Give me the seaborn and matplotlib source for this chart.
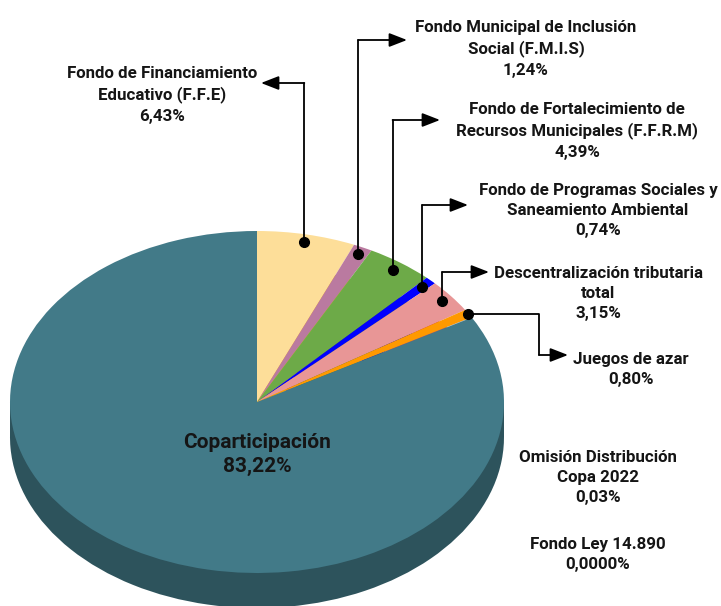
import colorsys

import matplotlib.pyplot as plt
import matplotlib.colors as mcolors
import numpy as np
import seaborn as sns


# data
fondos = [
    "Fondo de Financiamiento\nEducativo (F.F.E)",
    "Fondo Municipal de Inclusión\nSocial (F.M.I.S)",
    "Fondo de Fortalecimiento de\nRecursos Municipales (F.F.R.M)",
    "Fondo de Programas Sociales y\nSaneamiento Ambiental",
    "Descentralización tributaria\ntotal",
    "Juegos de azar",
    "Omisión Distribución\nCopa 2022",
    "Fondo Ley 14.890",
    "Coparticipación",
]
porcentajes = [6.43, 1.24, 4.39, 0.74, 3.15, 0.80, 0.03, 0.0, 83.22]
etiquetas_pct = ["6,43%", "1,24%", "4,39%", "0,74%", "3,15%", "0,80%", "0,03%", "0,0000%", "83,22%"]
colores = ["#FDDE99", "#BA7AA0", "#6DAA48", "#0000FF", "#E89696", "#FF9900",
           "#9E9E9E", "#CCCCCC", "#427A88"]

# layout (pixels of the 721x606 picture)
W, H = 721, 606
CX, CY = 257, 402      # centre of the top face
RX, RY = 247, 171      # radii of the ellipse
DEPTH = 35             # thickness of the pie

# text anchor (x centre, y of first line centre) and arrow routing per label
text_pos = [(162, 72), (526, 26), (577, 108), (598, 189), (598, 272),
            (631, 358), (598, 456), (598, 543), (257, 441)]
dot_r = [0.955, 0.955, 0.945, 0.95, 0.955, 1.0, None, None, None]
# arrow paths: waypoints after the dot, last one is the arrow tip
routes = [
    [("dot", 83), (261, 83)],
    [("dot", 40), (407, 40)],
    [("dot", 120), (440, 120)],
    [("dot", 205), (468, 205)],
    [("dot", 272), (489, 272)],
    [(539, "dot"), (539, 355), (568, 355)],
    None, None, None,
]


def fx(px):
    return (px - CX) / RX


def fy(py):
    return (CY - py) / RY


def darker(c, f=0.68):
    r, g, b = mcolors.to_rgb(c)
    h, l, s = colorsys.rgb_to_hls(r, g, b)
    return colorsys.hls_to_rgb(h, l * f, s)


sns.set_theme(style="white")
plt.rcParams["font.family"] = ["Roboto", "DejaVu Sans"]

fig = plt.figure(figsize=(W / 100, H / 100), dpi=100)
ax = fig.add_axes([0, 0, 1, 1])

d = DEPTH / RY
# side of the pie: shifted pie + band joining both faces
ax.pie(porcentajes, colors=[darker(c) for c in colores], startangle=90,
       counterclock=False, radius=1, center=(0, -d),
       wedgeprops=dict(linewidth=0), normalize=True)
xs = np.linspace(-1, 1, 50)
ax.fill_between(xs, -d, 0, color=darker(colores[-1]), linewidth=0)
# top face
wedges, _ = ax.pie(porcentajes, colors=colores, startangle=90,
                   counterclock=False, radius=1, center=(0, 0),
                   wedgeprops=dict(linewidth=0), normalize=True)

ax.set_aspect("auto")
ax.set_xlim(fx(0), fx(W))
ax.set_ylim(fy(H), fy(0))
ax.axis("off")

txt_kw = dict(ha="center", va="top", fontweight="bold", color="#151515")
for i, (name, pct) in enumerate(zip(fondos, etiquetas_pct)):
    tx, ty = text_pos[i]
    big = i == len(fondos) - 1
    ax.text(fx(tx), fy(ty - (8 if big else 6)), f"{name}\n{pct}",
            fontsize=15 if big else 12.2, linespacing=1.3 if big else 1.42,
            **txt_kw)

    if routes[i] is None:
        continue
    w = wedges[i]
    mid = np.deg2rad((w.theta1 + w.theta2) / 2)
    dx, dy = dot_r[i] * np.cos(mid), dot_r[i] * np.sin(mid)
    ax.plot(dx, dy, "o", color="black", markersize=7, zorder=5)
    pts = [(dx, dy)]
    for px, py in routes[i]:
        x = dx if px == "dot" else fx(px)
        y = dy if py == "dot" else fy(py)
        pts.append((x, y))
    line = np.array(pts[:-1])
    ax.plot(line[:, 0], line[:, 1], color="black", lw=1.3, zorder=4)
    ax.annotate("", xy=pts[-1], xytext=pts[-2],
                arrowprops=dict(arrowstyle="-|>,head_length=0.9,head_width=0.35",
                                color="black", lw=1.3, shrinkA=0, shrinkB=0))

fig.savefig("out.png", dpi=100)
